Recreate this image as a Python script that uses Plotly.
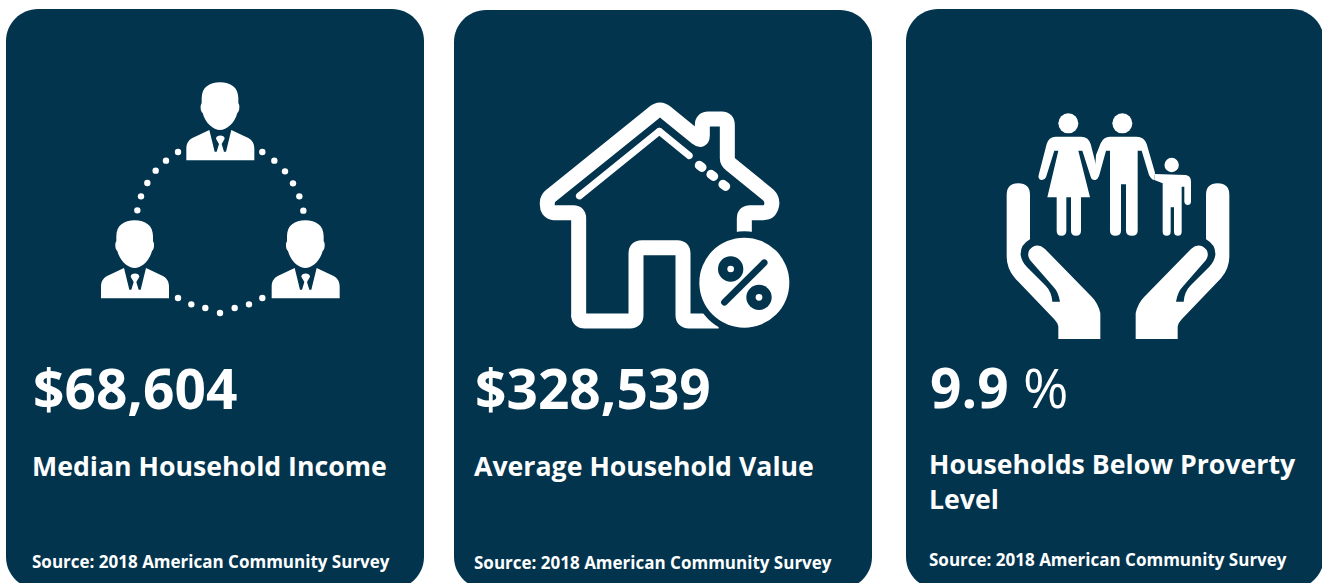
import re
import plotly.graph_objects as go

# ---- content ----
values = ["$68,604", "$328,539", "<b>9.9</b> %"]
labels = ["Median Household Income", "Average Household Value", "Households Below Proverty<br>Level"]
sources = ["Source: 2018 American Community Survey"] * 3
value_weight = [700, 700, 400]
card_left = [6, 454, 906]
card_top = [9, 10, 9]
text_left = [30, 472, 927]
value_y = [387, 387, 386]
label_y = [465, 465, 481]
source_y = [561, 562, 559]

NAVY = "#02344e"
WHITE = "#ffffff"
W, H = 1322, 583
FONT = "Open Sans"

shapes = []


def tf(path, sx, ox, oy, mirror=None):
    """Map an icon path given in zoomed units to chart pixels."""
    def rep(m):
        x, y = float(m.group(1)), float(m.group(2))
        if mirror is not None:
            x = mirror - x
        return f"{ox + x / sx:.2f} {oy + y / sx:.2f}"
    return re.sub(r"(-?\d+\.?\d*) (-?\d+\.?\d*)", rep, path)


def add(path, fill=WHITE, stroke=None, width=0):
    shapes.append(dict(type="path", path=path, xref="x", yref="y", layer="above",
                       fillcolor=fill if fill else "rgba(0,0,0,0)",
                       line=dict(color=stroke if stroke else "rgba(0,0,0,0)", width=width)))


def circle(cx, cy, r, fill=WHITE):
    shapes.append(dict(type="circle", xref="x", yref="y", x0=cx - r, x1=cx + r, y0=cy - r, y1=cy + r,
                       fillcolor=fill, line=dict(width=0), layer="above"))


def capsule(x0, y0, x1, y1, w, fill=WHITE):
    dx, dy = x1 - x0, y1 - y0
    ln = (dx * dx + dy * dy) ** 0.5
    ux, uy = dx / ln, dy / ln
    nx, ny = -uy * w / 2, ux * w / 2
    ex, ey = ux * w * 0.66, uy * w * 0.66
    p = (f"M{x0 + nx:.2f} {y0 + ny:.2f} L{x1 + nx:.2f} {y1 + ny:.2f} "
         f"C{x1 + nx + ex:.2f} {y1 + ny + ey:.2f} {x1 - nx + ex:.2f} {y1 - ny + ey:.2f} {x1 - nx:.2f} {y1 - ny:.2f} "
         f"L{x0 - nx:.2f} {y0 - ny:.2f} "
         f"C{x0 - nx - ex:.2f} {y0 - ny - ey:.2f} {x0 + nx - ex:.2f} {y0 + ny - ey:.2f} {x0 + nx:.2f} {y0 + ny:.2f} Z")
    add(p, fill)


# ---- cards ----
R = 32
for x, y in zip(card_left, card_top):
    x1, b = x + 418, 589
    k = R * 0.45
    add(f"M{x + R} {y} L{x1 - R} {y} C{x1 - k} {y} {x1} {y + k} {x1} {y + R} L{x1} {b - R} "
        f"C{x1} {b - k} {x1 - k} {b} {x1 - R} {b} L{x + R} {b} C{x + k} {b} {x} {b - k} {x} {b - R} "
        f"L{x} {y + R} C{x} {y + k} {x + k} {y} {x + R} {y} Z", NAVY)

# ---- icon 1: three people with dotted ring ----
HEAD = ("M390 37 C422 37 445 52 445 85 L445 100 C450 105 449 125 442 129 C434 160 410 180 390 180 "
        "C370 180 346 160 338 129 C331 125 330 105 335 100 L335 85 C335 52 358 37 390 37 Z")
BODY = ("M289 271 L289 235 C289 218 298 208 312 202 L358 180 L424 180 L470 202 C484 208 493 218 493 235 "
        "L493 271 Z")
COLLAR = ("M358 180 L374 245 L380 245 L387 222 L378 206 C378 193 404 193 404 206 L395 222 L402 245 L408 245 "
          "L424 180 Z")
for dx, dy in [(0, 0), (-256, 414), (256, 414)]:
    ox, oy = 90 + dx / 3, 70 + dy / 3
    add(tf(BODY, 3, ox, oy))
    add(tf(COLLAR, 3, ox, oy), NAVY)
    add(tf(HEAD, 3, ox, oy))

ring_dots = [(264, 246), (228, 272), (197, 302), (172, 339), (153, 379), (142, 421),
             (517, 246), (553, 272), (585, 304), (609, 340), (628, 379), (640, 422),
             (264, 684), (304, 703), (346, 714), (390, 729), (434, 714), (477, 703), (517, 684)]
for zx, zy in ring_dots:
    circle(90 + zx / 3, 70 + zy / 3, 3.2)

# ---- icon 2: house with percent badge ----
OX, OY = 530, 90
HOUSE2 = ("M146 680 L146 385 Q146 368 130 368 L72 368 Q50 366 52 338 Q52 325 65 315 L372 68 Q390 52 408 68 "
          "L500 143 Q517 157 517 135 L517 105 Q517 87 535 87 L575 87 Q592 87 592 105 L592 205 Q592 215 602 223 "
          "L715 315 Q728 328 725 345 Q720 368 700 368 L660 368 Q643 368 643 385 L643 440")
add(tf(HOUSE2, 3, OX, OY), None, WHITE, 15)
add(tf("M146 675 Q146 693 165 693 L300 693 Q318 693 318 675 L318 490 Q318 473 335 473 "
       "L442 473 Q459 473 459 490 L459 675 Q459 693 477 693 L566 693", 3, OX, OY), None, WHITE, 15)
# inner roof highlight
pt = lambda x, y: (OX + x / 3, OY + y / 3)
capsule(*pt(148, 318), *pt(388, 124), 7)
capsule(*pt(388, 124), *pt(478, 197), 7)
capsule(*pt(508, 226), *pt(516, 232), 9)
capsule(*pt(543, 253), *pt(551, 259), 9)
capsule(*pt(579, 283), *pt(587, 289), 9)
# badge
circle(*pt(643, 578), 154 / 3, NAVY)
circle(*pt(643, 578), 135 / 3, WHITE)
circle(*pt(602, 537), 38 / 3, NAVY)
circle(*pt(602, 537), 10 / 3, WHITE)
circle(*pt(687, 622), 38 / 3, NAVY)
circle(*pt(687, 622), 10 / 3, WHITE)
capsule(*pt(583, 637), *pt(703, 518), 6.6, NAVY)

# ---- icon 3: family in hands ----
FX, FY = 995, 100
HAND = ("M35 285 Q35 250 70 250 Q105 250 105 285 L105 418 Q75 435 77 465 Q80 485 95 500 L150 555 Q170 575 172 605 "
        "L195 605 Q190 575 175 560 L105 480 Q95 465 103 450 Q125 425 150 447 L290 590 Q310 610 316 640 L316 717 "
        "L190 717 L190 680 Q188 668 175 655 L60 535 Q35 505 35 470 Z")
add(tf(HAND, 3, FX, FY))
add(tf(HAND, 3, FX, FY, mirror=738))
WOMAN = ("M182 110 L258 110 Q280 110 287 132 L310 222 Q312 238 298 240 Q290 240 287 230 L262 152 L250 152 L285 292 "
         "L258 292 L258 392 Q258 407 243 407 Q228 407 228 392 L228 292 L214 292 L214 392 Q214 407 199 407 "
         "Q185 407 185 392 L185 292 L157 292 L190 152 L178 152 L153 232 Q148 242 138 240 Q128 236 131 225 "
         "L155 132 Q162 110 182 110 Z")
MAN = ("M345 110 L425 110 Q447 110 455 132 L480 218 L478 240 Q470 240 462 225 L440 152 L428 152 L428 392 "
       "Q428 407 411 407 Q393 407 393 392 L393 253 L378 253 L378 392 Q378 407 361 407 Q345 407 345 392 L345 152 "
       "L333 152 L313 225 Q308 240 298 240 L303 165 L317 130 Q325 110 345 110 Z")
CHILD = ("M480 222 L572 225 Q588 227 588 245 L588 305 Q587 315 578 315 Q570 315 568 305 L568 260 L560 260 L560 395 "
         "Q560 407 549 407 Q537 407 537 395 L537 322 L527 322 L527 395 Q527 407 515 407 Q503 407 503 395 L503 250 "
         "L478 240 Z")
for p in (WOMAN, MAN, CHILD):
    add(tf(p, 3, FX, FY))
circle(FX + 220 / 3, FY + 70 / 3, 10)
circle(FX + 382 / 3, FY + 70 / 3, 10)
circle(FX + 530 / 3, FY + 195 / 3, 7.2)

# ---- text ----
ann = []
for i in range(3):
    for txt, y, size, dx, wt in [(values[i], value_y[i], 55, 1, value_weight[i]),
                                 (labels[i], label_y[i], 26.7, 0, 700),
                                 (sources[i], source_y[i], 17, 0, 700)]:
        ann.append(dict(text=txt, x=text_left[i] + dx, y=y, xref="x", yref="y",
                        xanchor="left", yanchor="middle", align="left", showarrow=False,
                        font=dict(family=FONT, size=size, color=WHITE, weight=wt)))

fig = go.Figure()
fig.update_layout(
    width=W, height=H, margin=dict(l=0, r=0, t=0, b=0),
    paper_bgcolor=WHITE, plot_bgcolor=WHITE, showlegend=False,
    xaxis=dict(range=[0, W], visible=False, fixedrange=True),
    yaxis=dict(range=[H, 0], visible=False, fixedrange=True),
    shapes=shapes, annotations=ann,
)
fig.write_html("out.html", config=dict(displayModeBar=False),
               post_script="document.body.style.margin='0';document.body.style.overflow='hidden';")
